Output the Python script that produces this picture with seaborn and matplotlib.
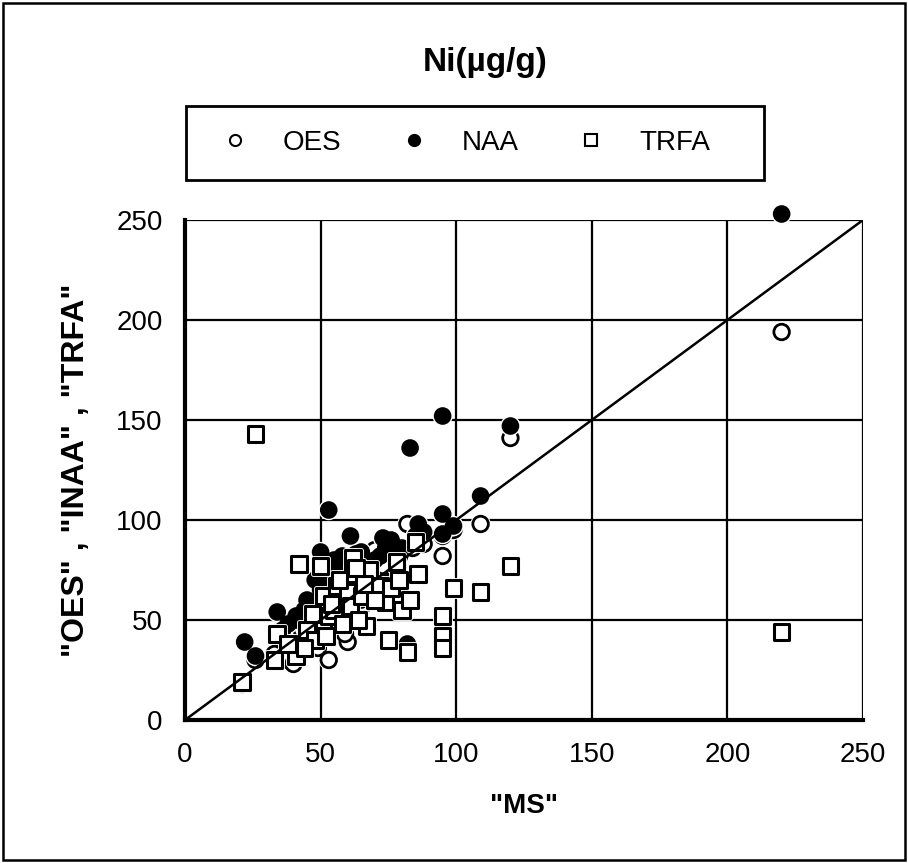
import matplotlib
matplotlib.use("Agg")
import matplotlib.pyplot as plt
import matplotlib.patheffects as pe
from matplotlib.lines import Line2D
from matplotlib.patches import Rectangle
import seaborn as sns

# ---------------- data (MS value, method value) ----------------
oes_ms = [21, 26, 33, 38, 40, 42, 45, 48, 50, 53, 55, 57, 58, 60, 60, 62, 64, 66, 68, 70,
          72, 74, 76, 78, 80, 82, 85, 88, 95, 95, 99, 109, 120, 220, 47, 52, 56, 62, 45, 43,
          50, 65, 70, 58, 36, 44, 54, 61, 67, 73, 79, 84, 49, 59]
oes_val = [18, 30, 33, 30, 28, 35, 40, 45, 48, 30, 50, 45, 55, 39, 60, 52, 65, 58, 70, 65,
           75, 68, 80, 72, 85, 98, 90, 88, 82, 92, 95, 98, 141, 194, 58, 62, 70, 75, 52, 45,
           55, 80, 85, 78, 40, 50, 66, 71, 62, 77, 82, 86, 36, 43]

naa_ms = [22, 26, 34, 41, 41, 50, 53, 61, 75, 82, 83, 86, 95, 95, 95, 99, 109, 120, 220,
          55, 58, 60, 63, 65, 67, 70, 72, 74, 76, 78, 80, 48, 52, 45, 50, 44, 47, 55, 60,
          57, 62, 68, 36, 38, 65, 85, 88, 73, 54]
naa_val = [39, 32, 54, 52, 50, 84, 105, 92, 88, 38, 136, 98, 152, 103, 93, 97, 112, 147, 253,
           80, 82, 78, 83, 84, 76, 80, 82, 86, 90, 84, 86, 70, 72, 60, 65, 55, 50, 60, 70,
           75, 68, 72, 45, 48, 60, 92, 94, 91, 76]

trfa_ms = [21, 26, 33, 34, 41, 42, 50, 51, 51, 56, 60, 61, 62, 62, 67, 72, 74, 75, 78, 80,
           82, 83, 85, 86, 95, 95, 95, 99, 109, 120, 220, 45, 48, 53, 55, 57, 65, 68, 70, 64,
           58, 47, 38, 44, 52, 76, 79, 66, 54, 63]
trfa_val = [19, 143, 30, 43, 32, 78, 77, 47, 62, 67, 64, 57, 73, 81, 47, 67, 59, 40, 79, 55,
            34, 60, 89, 73, 52, 42, 36, 66, 64, 77, 44, 45, 40, 52, 55, 70, 62, 75, 60, 50,
            48, 53, 38, 36, 42, 66, 70, 68, 58, 76]

series_names = ["OES", "NAA", "TRFA"]
ticks = [0, 50, 100, 150, 200, 250]
title_text = "Ni(µg/g)"
xlabel_text = '"MS"'
ylabel_text = '"OES" , "INAA" , "TRFA"'

# ---------------- figure ----------------
W, H = 908, 863
sns.set_style("white")
plt.rcParams["font.family"] = ["Liberation Sans", "DejaVu Sans"]
for k in ["text.color", "axes.labelcolor", "xtick.color", "ytick.color", "axes.edgecolor"]:
    plt.rcParams[k] = "black"

fig = plt.figure(figsize=(W / 100, H / 100), dpi=100)
ax = fig.add_axes([185 / W, 143 / H, (863 - 185) / W, (720 - 220) / H])

halo = [pe.Stroke(linewidth=3.5, foreground="white"), pe.Normal()]
msize = 125

sns.scatterplot(x=oes_ms, y=oes_val, ax=ax, marker="o", s=msize, color="white",
                edgecolor="black", linewidth=2, clip_on=False, zorder=3)
ax.collections[-1].set_path_effects(halo)
sns.scatterplot(x=naa_ms, y=naa_val, ax=ax, marker="o", s=msize, color="black",
                edgecolor="black", linewidth=1.5, clip_on=False, zorder=4)
ax.collections[-1].set_path_effects(halo)
sns.scatterplot(x=trfa_ms, y=trfa_val, ax=ax, marker="s", s=msize, color="white",
                edgecolor="black", linewidth=2.2, clip_on=False, zorder=5)
ax.collections[-1].set_path_effects(halo)

# 1:1 line
ax.plot([0, 250], [0, 250], color="black", lw=1.8, zorder=6)

ax.set_xlim(0, 250)
ax.set_ylim(0, 250)
ax.set_xticks(ticks)
ax.set_yticks(ticks)
ax.grid(True, color="black", lw=1.6)
ax.set_axisbelow(True)
for s in ["top", "right"]:
    ax.spines[s].set_visible(False)
for s in ["left", "bottom"]:
    ax.spines[s].set_linewidth(3)
    ax.spines[s].set_color("black")
ax.tick_params(direction="out", length=7, width=3, colors="black", labelsize=20, pad=9)

ax.set_xlabel(xlabel_text, fontsize=20, fontweight="bold", labelpad=18)
ax.set_ylabel(ylabel_text, fontsize=23, fontweight="bold", labelpad=18)

fig.text(0.534, 0.927, title_text, ha="center", va="center", fontsize=24, fontweight="bold")

handles = [
    Line2D([], [], marker="o", ls="", markersize=8, markerfacecolor="white",
           markeredgecolor="black", markeredgewidth=1.5),
    Line2D([], [], marker="o", ls="", markersize=8, markerfacecolor="black",
           markeredgecolor="black", markeredgewidth=1.5),
    Line2D([], [], marker="s", ls="", markersize=8, markerfacecolor="white",
           markeredgecolor="black", markeredgewidth=1.5),
]
leg = fig.legend(handles, series_names, loc="center left",
                 bbox_to_anchor=(183.5 / W, 1 - 143 / H),
                 ncol=3, fontsize=20, frameon=False, borderpad=0.5,
                 handletextpad=0.88, columnspacing=1.75, handlelength=1.7)

# legend frame
fig.patches.append(Rectangle((186 / W, 1 - 180 / H), (764 - 186) / W, 74 / H,
                             transform=fig.transFigure, fill=False, edgecolor="black", lw=2))
# outer border
fig.patches.append(Rectangle((3 / W, 3 / H), 902 / W, 857 / H, transform=fig.transFigure,
                             fill=False, edgecolor="black", lw=1.8))

fig.savefig("out.png", dpi=100, facecolor="white")
